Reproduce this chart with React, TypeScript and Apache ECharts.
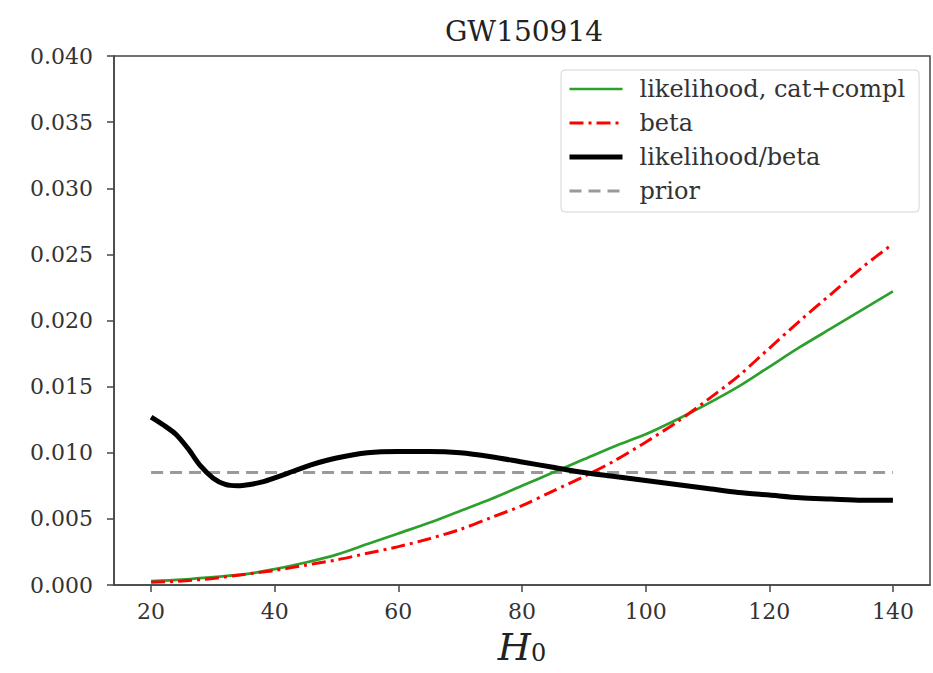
import React, { useEffect, useRef } from "react";
import * as echarts from "echarts";

// H0 grid for each curve
const likeX = [20, 25, 30, 35, 40, 45, 50, 55, 60, 65, 70, 75, 80, 85, 90, 95, 100, 105, 110, 115, 120, 125, 130, 135, 140];
const likeY = [0.0003, 0.0004, 0.0006, 0.0008, 0.0012, 0.0017, 0.0023, 0.0031, 0.0039, 0.0047, 0.0056, 0.0065, 0.0075, 0.0085, 0.0095, 0.0105, 0.0114, 0.0125, 0.0137, 0.0150, 0.0165, 0.0180, 0.0194, 0.0208, 0.0222];

const betaX = [20, 25, 30, 35, 40, 45, 50, 55, 60, 65, 70, 75, 80, 85, 90, 95, 100, 105, 110, 115, 120, 125, 130, 135, 140];
const betaY = [0.0002, 0.0003, 0.0005, 0.0008, 0.0011, 0.0015, 0.0019, 0.0024, 0.0029, 0.0035, 0.0042, 0.0051, 0.0060, 0.0071, 0.0082, 0.0094, 0.0108, 0.0123, 0.0140, 0.0158, 0.0179, 0.0200, 0.0220, 0.0240, 0.0258];

const ratioX = [20, 22, 24, 26, 28, 30, 32, 34, 36, 38, 40, 43, 46, 50, 55, 60, 65, 70, 75, 80, 85, 90, 95, 100, 105, 110, 115, 120, 125, 130, 135, 140];
const ratioY = [0.0127, 0.0121, 0.0114, 0.0103, 0.0090, 0.0081, 0.0076, 0.0075, 0.0076, 0.0078, 0.0081, 0.0086, 0.0091, 0.0096, 0.0100, 0.0101, 0.0101, 0.0100, 0.0097, 0.0093, 0.0089, 0.0085, 0.0082, 0.0079, 0.0076, 0.0073, 0.0070, 0.0068, 0.0066, 0.0065, 0.0064, 0.0064];

const priorX = [20, 140];
const priorY = [0.0085, 0.0085];

const xTicks = [20, 40, 60, 80, 100, 120, 140];

const seriesNames = ["likelihood, cat+compl", "beta", "likelihood/beta", "prior"];
const lineWidths = [2.7, 3, 5, 3];

const pairs = (xs: number[], ys: number[]) => xs.map((x, i) => [x, ys[i]]);

const FONT = "DejaVu Serif";

export default function App() {
  const ref = useRef<HTMLDivElement>(null);
  useEffect(() => {
    if (!ref.current) return;
    const chart = echarts.init(ref.current, undefined, { renderer: "svg" });
    chart.setOption({
      animation: false,
      backgroundColor: "#ffffff",
      title: {
        text: "GW150914",
        left: 440,
        top: 12,
        textStyle: { fontFamily: FONT, fontSize: 28, fontWeight: "normal", color: "#222" },
      },
      grid: {
        left: 114,
        right: 3,
        top: 56,
        bottom: 88,
        containLabel: false,
        outerBoundsMode: "none",
        show: true,
        borderColor: "#444",
        borderWidth: 1.5,
        backgroundColor: "transparent",
      },
      legend: {
        orient: "vertical",
        left: 561,
        top: 70,
        itemWidth: 53,
        itemHeight: 14,
        itemGap: 10,
        padding: [7, 14, 9, 6],
        backgroundColor: "#ffffff",
        borderColor: "#d6d6d6",
        borderWidth: 1,
        borderRadius: 4,
        itemStyle: { opacity: 0 },
        data: seriesNames.map((n, i) => ({ name: n, itemStyle: { opacity: 0 }, lineStyle: { width: lineWidths[i] } })),
        textStyle: { fontFamily: FONT, fontSize: 24, color: "#333", lineHeight: 24, padding: [0, 0, 0, 12] },
      },
      xAxis: {
        type: "value",
        min: 14,
        max: 146,
        name: "{h|H}{s|0}",
        nameLocation: "middle",
        nameGap: 43,
        nameTextStyle: {
          rich: {
            h: { fontFamily: FONT, fontStyle: "italic", fontSize: 38, color: "#222" },
            s: { fontFamily: FONT, fontSize: 24, color: "#222", padding: [12, 0, 0, 0] },
          },
        },
        axisLine: { show: true, lineStyle: { color: "#444", width: 1.5 } },
        axisTick: { show: true, length: 7, lineStyle: { color: "#444", width: 1.5 }, customValues: xTicks },
        axisLabel: { customValues: xTicks, fontFamily: FONT, fontSize: 22, color: "#333", margin: 15 },
        splitLine: { show: false },
      },
      yAxis: {
        type: "value",
        min: 0,
        max: 0.04,
        interval: 0.005,
        axisLine: { show: true, lineStyle: { color: "#444", width: 1.5 } },
        axisTick: { show: true, length: 7, lineStyle: { color: "#444", width: 1.5 } },
        axisLabel: {
          fontFamily: FONT,
          fontSize: 22,
          color: "#333",
          margin: 21,
          formatter: (v: number) => v.toFixed(3),
        },
        splitLine: { show: false },
      },
      series: [
        {
          name: seriesNames[0],
          type: "line",
          data: pairs(likeX, likeY),
          smooth: 0.3,
          showSymbol: false,
          symbol: "none",
          lineStyle: { color: "#2ca02c", width: lineWidths[0] },
          itemStyle: { color: "#2ca02c" },
          z: 2,
        },
        {
          name: seriesNames[1],
          type: "line",
          data: pairs(betaX, betaY),
          smooth: 0.3,
          showSymbol: false,
          symbol: "none",
          lineStyle: { color: "#ff0000", width: lineWidths[1], type: [14, 5, 3, 5] },
          itemStyle: { color: "#ff0000" },
          z: 3,
        },
        {
          name: seriesNames[2],
          type: "line",
          data: pairs(ratioX, ratioY),
          smooth: 0.3,
          showSymbol: false,
          symbol: "none",
          lineStyle: { color: "#000000", width: lineWidths[2] },
          itemStyle: { color: "#000000" },
          z: 4,
        },
        {
          name: seriesNames[3],
          type: "line",
          data: pairs(priorX, priorY),
          showSymbol: false,
          symbol: "none",
          lineStyle: { color: "#9a9a9a", width: lineWidths[3], type: [12, 7] },
          itemStyle: { color: "#9a9a9a" },
          z: 1,
        },
      ],
    });
    return () => chart.dispose();
  }, []);
  return <div ref={ref} style={{ position: "fixed", left: 0, top: 0, width: 933, height: 673 }} />;
}
